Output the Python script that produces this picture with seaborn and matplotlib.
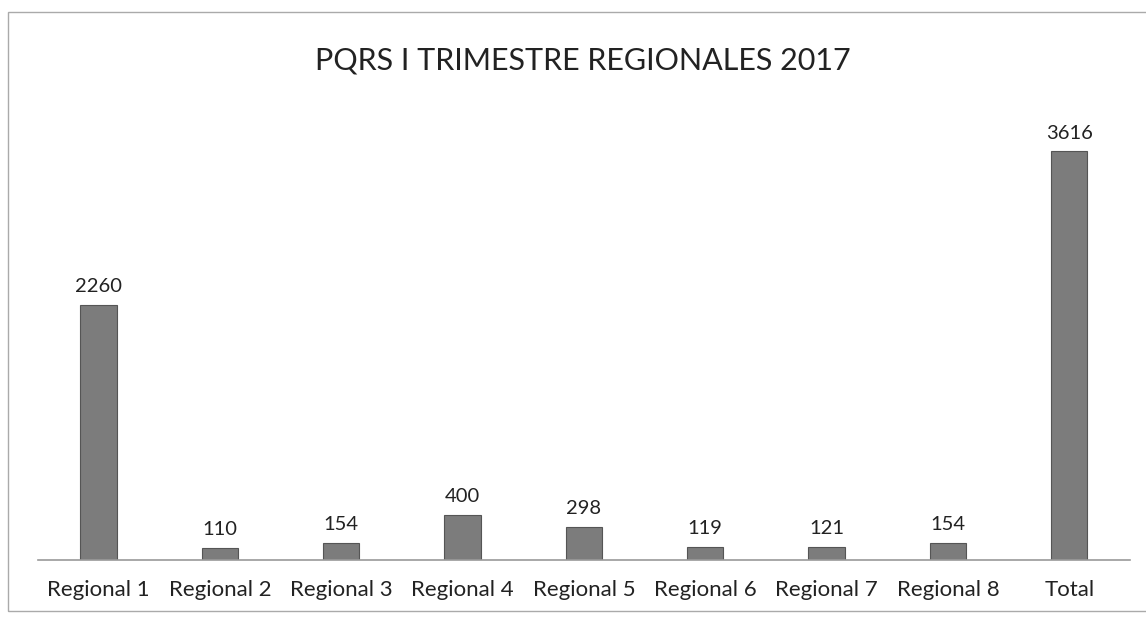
import pandas as pd
import matplotlib.pyplot as plt
import seaborn as sns
from matplotlib.patches import Rectangle

# Datos del gráfico
categorias = ['Regional 1', 'Regional 2', 'Regional 3', 'Regional 4', 'Regional 5',
              'Regional 6', 'Regional 7', 'Regional 8', 'Total']
valores = [2260, 110, 154, 400, 298, 119, 121, 154, 3616]

df = pd.DataFrame({'Regional': categorias, 'PQRS': valores})

sns.set_style('white')
plt.rcParams['font.family'] = ['Lato', 'DejaVu Sans']

fig = plt.figure(figsize=(11.46, 6.17), dpi=100)
ax = fig.add_axes([0.033, 0.092, 0.953, 0.733])

sns.barplot(data=df, x='Regional', y='PQRS', color='#7c7c7c', width=0.3,
            edgecolor='#555555', linewidth=0.8, saturation=1, ax=ax)

# Etiquetas de valor encima de cada barra
for cont in ax.containers:
    ax.bar_label(cont, padding=7, fontsize=14.5, color='#222222')

ax.set_ylim(0, 4000)
ax.set_xlim(-0.5, len(categorias) - 0.5)
ax.set_xlabel('')
ax.set_ylabel('')
ax.set_yticks([])
ax.tick_params(axis='x', length=0, labelsize=16, pad=14, colors='#222222')
for s in ['top', 'right', 'left']:
    ax.spines[s].set_visible(False)
ax.spines['bottom'].set_color('#9a9a9a')
ax.spines['bottom'].set_linewidth(1.2)

fig.text(0.509, 0.902, 'PQRS I TRIMESTRE REGIONALES 2017', ha='center', va='center',
         fontsize=22, color='#222222')

# Marco del gráfico
fig.patches.append(Rectangle((0.007, 0.01), 1.2, 0.97, transform=fig.transFigure,
                             fill=False, edgecolor='#aaaaaa', linewidth=1))

fig.savefig('out.png', dpi=100)
